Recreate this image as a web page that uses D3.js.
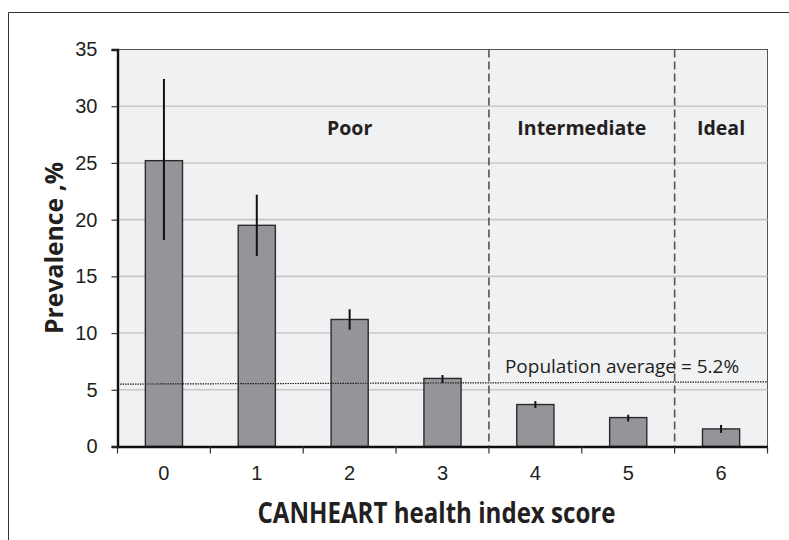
<!DOCTYPE html>
<html>
<head>
<meta charset="utf-8">
<script src="https://cdn.jsdelivr.net/npm/d3@7"></script>
<style>
  body { margin: 0; background: #fff; }
  svg { display: block; font-family: "Open Sans", "Noto Sans", sans-serif; }
</style>
</head>
<body>
<svg width="789" height="540"></svg>
<script>
var scores = ["0", "1", "2", "3", "4", "5", "6"];
var prevalence = [25.2, 19.5, 11.2, 6.0, 3.7, 2.55, 1.55];
var ciLow = [18.2, 16.8, 10.3, 5.6, 3.4, 2.2, 1.2];
var ciHigh = [32.4, 22.2, 12.1, 6.3, 4.0, 2.8, 1.9];
var yTicks = [0, 5, 10, 15, 20, 25, 30, 35];
var groups = [
    { name: "Poor", from: "0", x: 2.0 },
    { name: "Intermediate", from: "4", x: 4.5 },
    { name: "Ideal", from: "6", x: 6.0 }
];
var popAverage = [5.5, 5.7];   // dotted line, drawn slightly tilted in the source
var popLabel = "Population average = 5.2%";

var svg = d3.select("svg"),
    width = +svg.attr("width"),
    height = +svg.attr("height");

var margin = { top: 49.5, right: 21.5, bottom: 93.5, left: 117.5 };
var w = width - margin.left - margin.right,
    h = height - margin.top - margin.bottom;
var ink = "#231f20";

// outer frame (open at right and bottom)
svg.append("path")
    .attr("d", "M8.5," + height + "V12.5H" + width)
    .attr("fill", "none")
    .attr("stroke", "#333")
    .attr("stroke-width", 1);

var g = svg.append("g")
    .attr("transform", "translate(" + margin.left + "," + margin.top + ")");

var x = d3.scaleBand().domain(scores).range([0, w]).paddingInner(0.6).paddingOuter(0.3);
var xb = d3.scaleBand().domain(scores).range([0, w]);
var y = d3.scaleLinear().domain([0, 35]).range([h, 0]);
var groupX = d3.scaleLinear().domain([-0.5, 6.5]).range([0, w]);

g.append("rect")
    .attr("width", w)
    .attr("height", h)
    .attr("fill", "#f0f1f3")
    .attr("stroke", "#555")
    .attr("stroke-width", 1);

// gridlines
g.append("g")
    .selectAll("line")
    .data(yTicks.filter(function (d) { return d > 0 && d < 35; }))
    .enter().append("line")
    .attr("x1", 0)
    .attr("x2", w)
    .attr("y1", function (d) { return y(d); })
    .attr("y2", function (d) { return y(d); })
    .attr("stroke", "#c6c7c9")
    .attr("stroke-width", 1.6);

// bars
g.append("g")
    .selectAll("rect")
    .data(scores)
    .enter().append("rect")
    .attr("x", function (d) { return x(d); })
    .attr("width", x.bandwidth())
    .attr("y", function (d, i) { return y(prevalence[i]); })
    .attr("height", function (d, i) { return h - y(prevalence[i]); })
    .attr("fill", "#939598")
    .attr("stroke", "#2b2b2b")
    .attr("stroke-width", 1.4);

// error bars
g.append("g")
    .selectAll("line")
    .data(scores)
    .enter().append("line")
    .attr("x1", function (d) { return x(d) + x.bandwidth() / 2; })
    .attr("x2", function (d) { return x(d) + x.bandwidth() / 2; })
    .attr("y1", function (d, i) { return y(ciLow[i]); })
    .attr("y2", function (d, i) { return y(ciHigh[i]); })
    .attr("stroke", "#111")
    .attr("stroke-width", 2);

// population average
g.append("line")
    .attr("x1", 0)
    .attr("x2", w)
    .attr("y1", y(popAverage[0]))
    .attr("y2", y(popAverage[1]))
    .attr("stroke", "#222")
    .attr("stroke-width", 1.2)
    .attr("stroke-dasharray", "1.5,1");

// group separators
g.append("g")
    .selectAll("line")
    .data(groups.slice(1))
    .enter().append("line")
    .attr("x1", function (d) { return xb(d.from); })
    .attr("x2", function (d) { return xb(d.from); })
    .attr("y1", 0)
    .attr("y2", h)
    .attr("stroke", "#555")
    .attr("stroke-width", 1.6)
    .attr("stroke-dasharray", "8,4");

// group names
g.append("g")
    .selectAll("text")
    .data(groups)
    .enter().append("text")
    .attr("x", function (d) { return groupX(d.x); })
    .attr("y", y(27.5))
    .attr("text-anchor", "middle")
    .attr("font-weight", "bold")
    .attr("font-size", 19.5)
    .attr("fill", ink)
    .text(function (d) { return d.name; });

g.append("text")
    .attr("x", xb("4") + 16)
    .attr("y", y(6.5))
    .attr("font-size", 19)
    .attr("fill", ink)
    .text(popLabel);

// axes
var yAxis = g.append("g")
    .call(d3.axisLeft(y).tickValues(yTicks).tickSize(6).tickPadding(14));
yAxis.select(".domain").attr("stroke", "#111").attr("stroke-width", 2.4);
yAxis.selectAll(".tick line").attr("stroke", "#333").attr("stroke-width", 1.2);
yAxis.selectAll("text").attr("font-size", 20).attr("fill", ink).attr("font-family", "inherit");

var xAxis = g.append("g")
    .attr("transform", "translate(0," + h + ")")
    .call(d3.axisBottom(xb).tickSize(0).tickPadding(19));
xAxis.select(".domain").attr("stroke", "#111").attr("stroke-width", 2.4);
xAxis.selectAll("text").attr("font-size", 20).attr("fill", ink).attr("font-family", "inherit");

// x tick marks at band boundaries
xAxis.append("g")
    .selectAll("line")
    .data(d3.range(scores.length + 1))
    .enter().append("line")
    .attr("x1", function (d) { return d * xb.step(); })
    .attr("x2", function (d) { return d * xb.step(); })
    .attr("y1", 0)
    .attr("y2", 7)
    .attr("stroke", "#333")
    .attr("stroke-width", 1.2);

// axis titles
svg.append("text")
    .attr("transform", "translate(62.5," + (margin.top + y(17.5)) + ") rotate(-90)")
    .attr("text-anchor", "middle")
    .attr("font-weight", "bold")
    .attr("font-size", 25.5)
    .attr("textLength", 172)
    .attr("lengthAdjust", "spacingAndGlyphs")
    .attr("fill", ink)
    .text("Prevalence ,%");

svg.append("text")
    .attr("x", margin.left + w / 2 - 6)
    .attr("y", 523)
    .attr("text-anchor", "middle")
    .attr("font-weight", "bold")
    .attr("font-size", 28)
    .attr("textLength", 358)
    .attr("lengthAdjust", "spacingAndGlyphs")
    .attr("fill", ink)
    .text("CANHEART health index score");
</script>
</body>
</html>
